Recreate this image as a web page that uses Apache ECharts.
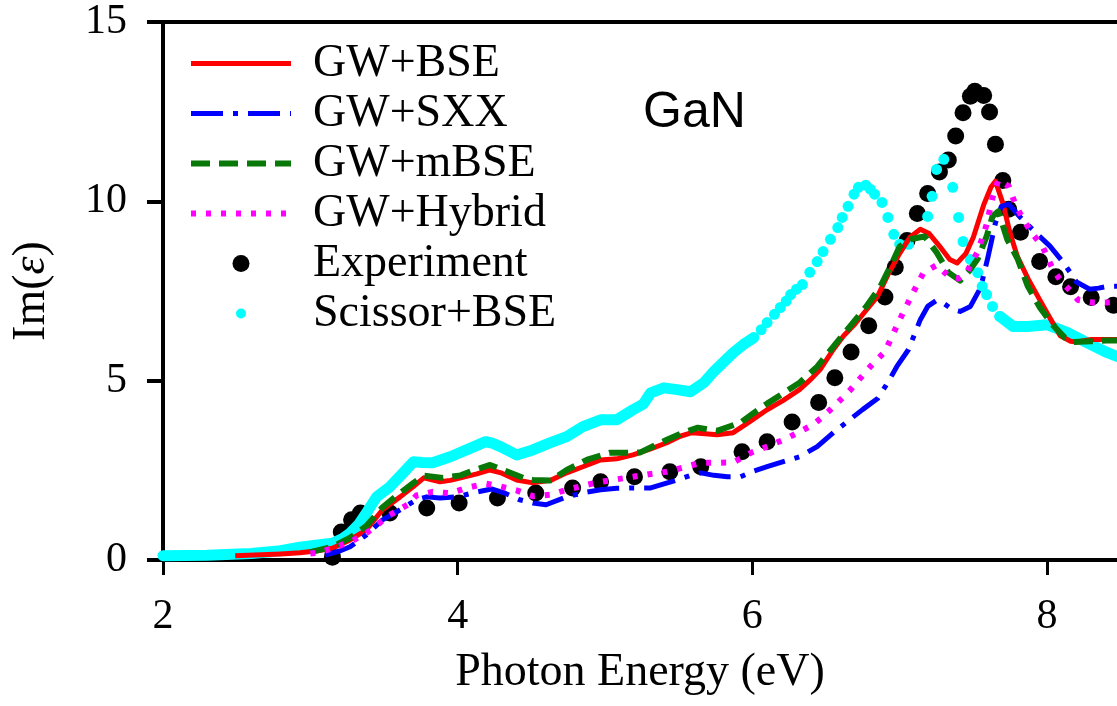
<!DOCTYPE html>
<html>
<head>
<meta charset="utf-8">
<script src="https://cdn.jsdelivr.net/npm/echarts@6/dist/echarts.min.js"></script>
<style>
html,body{margin:0;padding:0;background:#fff;}
#chart{width:1117px;height:706px;}
</style>
</head>
<body>
<div id="chart"></div>
<script>
// ---- Data ----
const xTicks = [2, 4, 6, 8];
const yTicks = [0, 5, 10, 15];

const bseX = [2.49,2.80,2.93,3.05,3.15,3.27,3.38,3.49,3.61,3.70,3.77,3.88,3.95,4.02,4.13,4.22,4.30,4.40,4.51,4.63,4.74,4.85,4.97,5.08,5.19,5.31,5.42,5.51,5.59,5.68,5.76,5.87,5.98,6.10,6.21,6.32,6.40,6.46,6.55,6.62,6.69,6.77,6.85,6.92,7.00,7.07,7.14,7.20,7.28,7.34,7.39,7.45,7.50,7.57,7.62,7.65,7.70,7.75,7.80,7.87,7.95,8.02,8.09,8.16,8.20,8.30,8.40,8.48];
const bseY = [0.12,0.17,0.20,0.26,0.33,0.56,0.84,1.40,1.76,2.05,2.29,2.18,2.22,2.29,2.40,2.51,2.42,2.23,2.15,2.22,2.43,2.60,2.79,2.82,2.93,3.10,3.27,3.45,3.55,3.52,3.49,3.55,3.85,4.19,4.45,4.75,5.05,5.31,5.87,6.25,6.55,6.95,7.35,7.95,8.55,9.00,9.22,9.10,8.70,8.38,8.28,8.55,9.00,9.90,10.40,10.56,9.95,9.10,8.45,7.85,7.26,6.75,6.25,6.10,6.08,6.15,6.15,6.15];

const sxxX = [3.10,3.20,3.27,3.38,3.49,3.61,3.72,3.79,3.88,4.00,4.10,4.23,4.31,4.42,4.51,4.60,4.74,4.86,4.97,5.08,5.19,5.31,5.40,5.49,5.58,5.65,5.74,5.83,5.92,6.01,6.10,6.21,6.32,6.44,6.55,6.66,6.75,6.85,6.92,6.98,7.06,7.14,7.19,7.25,7.30,7.36,7.41,7.48,7.55,7.60,7.65,7.69,7.74,7.82,7.93,8.02,8.11,8.16,8.20,8.29,8.35,8.41,8.48];
const sxxY = [0.14,0.25,0.37,0.70,1.12,1.40,1.68,1.76,1.73,1.76,1.87,1.98,1.88,1.68,1.59,1.54,1.76,1.88,1.96,2.00,2.01,2.01,2.12,2.23,2.36,2.43,2.36,2.32,2.32,2.48,2.60,2.74,2.88,3.16,3.55,3.91,4.20,4.50,4.95,5.39,5.87,6.70,7.07,7.24,7.15,6.98,6.93,7.07,7.60,8.46,9.40,9.86,9.92,9.55,9.10,8.75,8.30,8.00,7.75,7.55,7.58,7.63,7.63];

const mbseX = [3.00,3.15,3.27,3.38,3.49,3.61,3.70,3.77,3.90,4.02,4.12,4.22,4.34,4.45,4.51,4.63,4.74,4.88,5.03,5.14,5.24,5.33,5.42,5.53,5.63,5.70,5.76,5.92,6.01,6.10,6.21,6.32,6.44,6.55,6.66,6.77,6.87,6.95,7.00,7.08,7.14,7.17,7.25,7.33,7.41,7.47,7.53,7.59,7.63,7.67,7.73,7.80,7.87,7.95,8.04,8.12,8.18,8.30,8.40,8.48];
const mbseY = [0.22,0.37,0.62,0.95,1.47,1.87,2.15,2.35,2.29,2.36,2.52,2.65,2.46,2.28,2.23,2.22,2.51,2.80,2.99,2.99,3.00,3.18,3.35,3.55,3.69,3.64,3.60,3.83,4.10,4.36,4.65,4.94,5.39,5.95,6.50,7.05,7.63,8.30,8.74,8.95,9.00,9.02,8.58,8.02,7.79,8.05,8.40,9.02,9.58,9.72,8.94,8.40,7.63,7.05,6.55,6.20,6.08,6.10,6.12,6.12];

const hybX = [3.00,3.05,3.15,3.27,3.38,3.46,3.54,3.66,3.72,3.83,3.95,4.06,4.19,4.29,4.40,4.51,4.63,4.74,4.86,4.97,5.08,5.19,5.31,5.42,5.53,5.65,5.76,5.87,5.99,6.10,6.21,6.31,6.41,6.48,6.55,6.66,6.80,6.90,7.00,7.09,7.16,7.25,7.34,7.40,7.45,7.53,7.59,7.63,7.67,7.74,7.78,7.83,7.90,7.97,8.04,8.10,8.16,8.21,8.31,8.41,8.48];
const hybY = [0.18,0.20,0.33,0.50,0.75,1.00,1.26,1.54,1.80,1.90,1.86,2.01,2.13,2.05,1.94,1.78,1.82,1.96,2.08,2.18,2.25,2.32,2.40,2.46,2.58,2.71,2.71,2.72,2.99,3.16,3.35,3.55,3.77,4.00,4.27,4.72,5.39,5.81,6.70,7.45,8.00,8.22,7.89,7.85,7.98,8.60,9.35,10.10,10.60,10.42,9.97,9.55,9.10,8.74,8.10,7.75,7.50,7.25,7.18,7.18,7.20];

const expX = [3.15,3.21,3.28,3.34,3.54,3.79,4.01,4.27,4.53,4.78,4.97,5.20,5.44,5.65,5.93,6.10,6.27,6.45,6.56,6.67,6.79,6.90,6.97,7.05,7.12,7.19,7.27,7.33,7.38,7.43,7.48,7.51,7.57,7.61,7.65,7.70,7.74,7.82,7.95,8.06,8.16,8.30,8.45];
const expY = [0.08,0.78,1.12,1.31,1.31,1.45,1.59,1.73,1.87,2.01,2.18,2.32,2.46,2.60,3.02,3.30,3.85,4.39,5.08,5.80,6.53,7.33,8.16,8.91,9.66,10.22,10.82,11.15,11.82,12.47,12.93,13.07,12.95,12.49,11.59,10.58,9.78,9.14,8.32,7.90,7.62,7.32,7.10];

// Scissor+BSE: dense (band-like) low-slope parts and sparse dots on the steep part
const sciBandAX = [2.00,2.30,2.60,2.80,2.93,3.05,3.15,3.22,3.27,3.33,3.38,3.45,3.54,3.63,3.70,3.76,3.83,3.95,4.06,4.19,4.24,4.29,4.40,4.51,4.63,4.74,4.85,4.97,5.08,5.19,5.26,5.31,5.40,5.49,5.58,5.67,5.73,5.80,5.87,5.94,6.01];
const sciBandAY = [0.12,0.13,0.18,0.26,0.36,0.42,0.47,0.60,0.75,1.00,1.31,1.76,2.04,2.43,2.74,2.72,2.71,2.88,3.07,3.30,3.25,3.16,2.93,3.07,3.27,3.44,3.72,3.91,3.91,4.19,4.35,4.66,4.80,4.75,4.69,4.94,5.22,5.50,5.78,6.01,6.20];
const sciDotX = [6.06,6.10,6.15,6.19,6.23,6.26,6.30,6.34,6.39,6.44,6.48,6.53,6.58,6.61,6.65,6.69,6.72,6.77,6.80,6.83,6.88,6.92,6.96,7.00,7.06,7.19,7.22,7.25,7.30,7.36,7.40,7.43,7.48,7.53,7.56,7.59,7.63,7.68];
const sciDotY = [6.42,6.62,6.85,7.04,7.22,7.40,7.55,7.68,8.02,8.32,8.60,8.94,9.27,9.55,9.86,10.20,10.39,10.45,10.34,10.20,9.97,9.55,9.08,8.80,8.80,9.58,10.14,10.89,11.17,10.39,9.55,8.88,8.38,8.01,7.63,7.40,7.07,6.79];
const sciBandBX = [7.68,7.77,7.87,8.00,8.14,8.27,8.41,8.48];
const sciBandBY = [6.79,6.51,6.51,6.56,6.34,6.06,5.78,5.67];

const zip = (xs, ys) => xs.map((x, i) => [x, ys[i]]);

const serif = 'Liberation Serif';
const chart = echarts.init(document.getElementById('chart'));

const styles = {
  bse:  { color: '#ff0000', width: 5, type: 'solid' },
  sxx:  { color: '#0000ff', width: 5, type: [32, 10, 5, 10] },
  mbse: { color: '#087808', width: 6, type: [19, 9] },
  hyb:  { color: '#ff00ff', width: 6, type: [5, 10] }
};

const lineSeries = (name, xs, ys, st, cap) => ({
  name, type: 'line', data: zip(xs, ys), symbol: 'none', showSymbol: false, smooth: false,
  lineStyle: { color: st.color, width: st.width, type: st.type, cap: cap || 'butt', join: 'round' },
  itemStyle: { color: st.color }, animation: false
});

const legendLine = (name, st) => ({
  name, itemStyle: { opacity: 0 },
  lineStyle: { color: st.color, width: st.width, type: st.type, cap: 'butt', opacity: 1 }
});

chart.setOption({
  animation: false,
  backgroundColor: '#fff',
  title: {
    text: 'GaN', left: 638, top: 83,
    textStyle: { fontFamily: 'Liberation Sans', fontSize: 50, fontWeight: 'normal', color: '#000' }
  },
  grid: { left: 163, right: 0, top: 22, bottom: 146, containLabel: false },
  legend: {
    orient: 'vertical', left: 188, top: 40, padding: 0,
    itemWidth: 100, itemHeight: 17, itemGap: 3,
    textStyle: { fontFamily: serif, fontSize: 46, color: '#000', lineHeight: 47, padding: [0, 0, 0, 17] },
    data: [
      legendLine('GW+BSE', styles.bse),
      legendLine('GW+SXX', styles.sxx),
      legendLine('GW+mBSE', styles.mbse),
      legendLine('GW+Hybrid', styles.hyb),
      { name: 'Experiment', icon: 'circle', itemStyle: { color: '#000', opacity: 1 } },
      { name: 'Scissor+BSE', icon: 'circle', itemStyle: { color: '#00ffff', opacity: 1, borderColor: '#fff', borderWidth: 7 } }
    ]
  },
  xAxis: [{
    type: 'value', min: 2, max: 8.475, interval: 2,
    name: 'Photon Energy (eV)', nameLocation: 'middle', nameGap: 90,
    nameTextStyle: { fontFamily: serif, fontSize: 46, color: '#000' },
    axisLine: { show: true, onZero: false, lineStyle: { color: '#000', width: 4 } },
    axisTick: { show: true, inside: false, length: 15, lineStyle: { color: '#000', width: 3 }, customValues: xTicks },
    axisLabel: { fontFamily: serif, fontSize: 42, color: '#000', margin: 36, customValues: xTicks },
    splitLine: { show: false }
  }, {
    type: 'value', position: 'top', min: 2, max: 8.475,
    axisLine: { show: true, onZero: false, lineStyle: { color: '#000', width: 4 } },
    axisTick: { show: false }, axisLabel: { show: false }, splitLine: { show: false }
  }],
  yAxis: {
    type: 'value', min: 0, max: 15, interval: 5,
    name: '{a|Im(}{b|ε}{a|)}', nameLocation: 'middle', nameGap: 108,
    nameTextStyle: {
      rich: {
        a: { fontFamily: serif, fontSize: 46, color: '#000' },
        b: { fontFamily: serif, fontSize: 46, color: '#000', fontStyle: 'italic' }
      }
    },
    axisLine: { show: true, onZero: false, lineStyle: { color: '#000', width: 4 } },
    axisTick: { show: true, inside: false, length: 16, lineStyle: { color: '#000', width: 4 }, customValues: yTicks },
    axisLabel: { fontFamily: serif, fontSize: 42, color: '#000', margin: 36, customValues: yTicks },
    splitLine: { show: false }
  },
  series: [
    { name: 'Experiment', type: 'scatter', data: zip(expX, expY), symbol: 'circle', symbolSize: 17,
      itemStyle: { color: '#000', opacity: 1 }, animation: false },
    lineSeries('Scissor+BSE', sciBandAX, sciBandAY, { color: '#00ffff', width: 11, type: 'solid' }, 'round'),
    { name: 'Scissor+BSE', type: 'scatter', data: zip(sciDotX, sciDotY), symbol: 'circle', symbolSize: 11,
      itemStyle: { color: '#00ffff', opacity: 1 }, animation: false },
    lineSeries('Scissor+BSE', sciBandBX, sciBandBY, { color: '#00ffff', width: 11, type: 'solid' }, 'round'),
    lineSeries('GW+BSE', bseX, bseY, styles.bse),
    lineSeries('GW+SXX', sxxX, sxxY, styles.sxx),
    lineSeries('GW+mBSE', mbseX, mbseY, styles.mbse),
    lineSeries('GW+Hybrid', hybX, hybY, styles.hyb)
  ]
});
</script>
</body>
</html>
